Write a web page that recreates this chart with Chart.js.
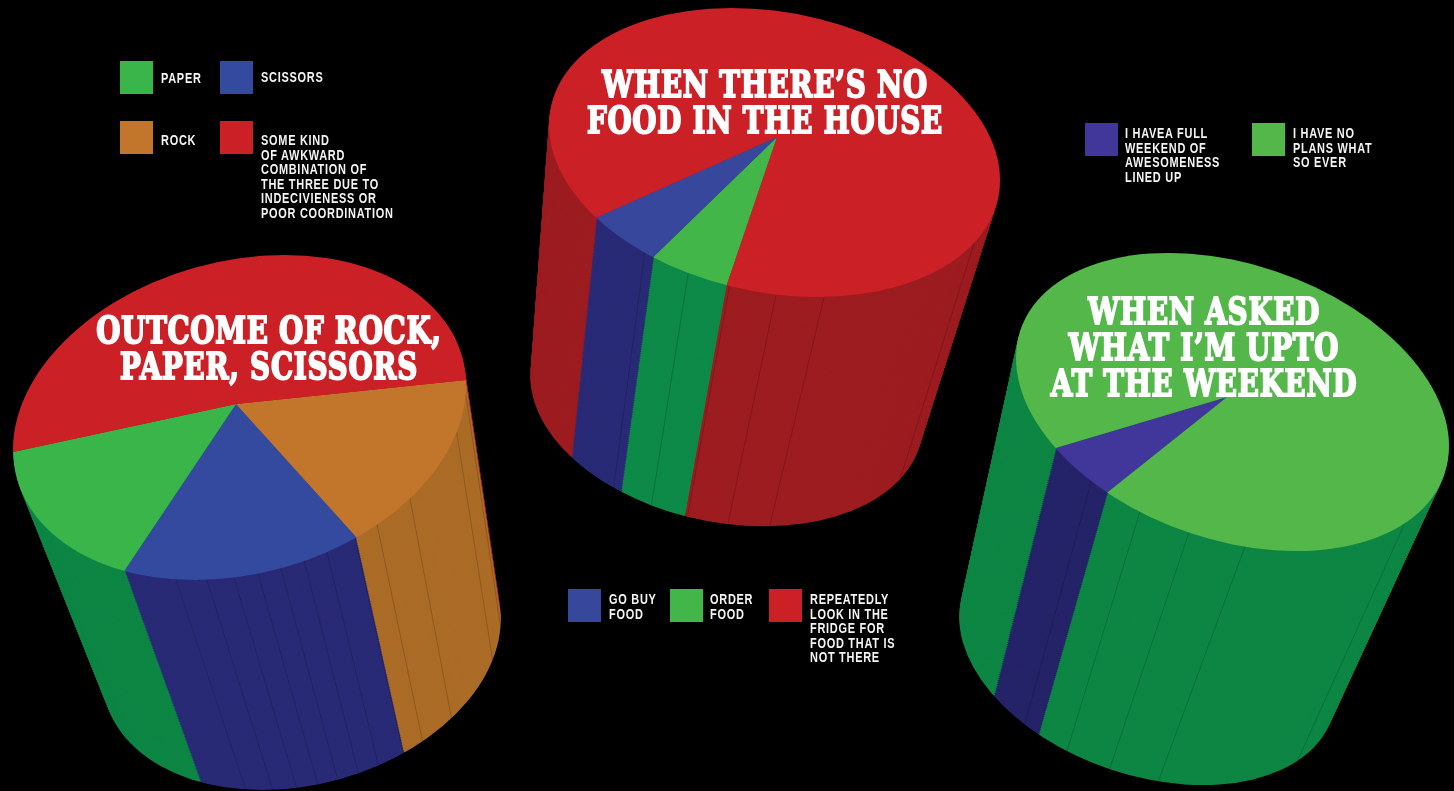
<!DOCTYPE html>
<html>
<head>
<meta charset="utf-8">
<script src="https://cdn.jsdelivr.net/npm/chart.js@4"></script>
<style>
html, body { margin: 0; background: #000; width: 1454px; height: 791px; overflow: hidden; }
canvas { position: absolute; left: 0; top: 0; }
.swatch { position: absolute; width: 33px; height: 33px; }
.label { position: absolute; color: #f4f4f4; font: bold 15px/14.5px "Liberation Sans", sans-serif; letter-spacing: 1px; white-space: pre;
  transform: scaleX(0.73); transform-origin: left top; }
.title { position: absolute; width: 600px; margin-left: -300px; text-align: center; color: #fff;
  font: bold 37px/36px "DejaVu Serif", serif; letter-spacing: 1px; -webkit-text-stroke: 2px #fff; white-space: pre; transform: scaleX(0.75); }
</style>
</head>
<body>
<canvas id="rps" width="1454" height="791"></canvas>
<canvas id="food" width="1454" height="791"></canvas>
<canvas id="weekend" width="1454" height="791"></canvas>
<script>
// slices run clockwise, so the order here is the order round the pie
const rpsLabels = ['Rock', 'Scissors', 'Paper', 'Some kind of awkward combination of the three due to indecivieness or poor coordination'];
const rpsValues = [16, 15.8, 15.7, 52.5];
const rpsColors = ['#c2762c', '#334a9e', '#3ab54a', '#cc2027'];
const rpsWalls = ['#ab6c27', '#292a76', '#0d8644', '#9c1c20'];
const rpsFacets = [106.3, 98.3, 91.4, 85.3, 79.5, 73.4, 67.3, 59.3, 52.6, 41.2, 16.5, 3];

const foodLabels = ['Order food', 'Go buy food', 'Repeatedly look in the fridge for food that is not there'];
const foodValues = [5.1, 5, 89.9];
const foodColors = ['#43b649', '#36479c', '#cc2027'];
const foodWalls = ['#0d8a47', '#292a76', '#9c1c20'];
const foodFacets = [125.1, 112.5, 101.5, 89.6, 77.3, 27.7];

const weekendLabels = ['I havea full weekend of awesomeness lined up', 'I have no plans what so ever'];
const weekendValues = [5.4, 94.6];
const weekendColors = ['#41379a', '#53b74a'];
const weekendWalls = ['#252368', '#0d8644'];
const weekendFacets = [130.7, 115.3, 101.6, 86.7, 37.2];

const STEPS = 130;

function drawPie3d(id, labels, values, colors, walls, facets, view) {
    const rotation = view.startAngle + 90;

    const solidPie = {
        id: 'solidPie',
        beforeDatasetsDraw(chart) {
            const ctx = chart.ctx;
            const arcs = chart.getDatasetMeta(0).data;

            function layer(t, fills) {
                const k = 1 - t * (1 - view.shrink);
                ctx.save();
                ctx.translate(view.cx + view.dropX * t, view.cy + view.dropY * t);
                ctx.scale(k, k);
                ctx.transform(view.w, view.skew, 0, view.h, 0, 0);
                ctx.beginPath();
                ctx.arc(0, 0, 1, 0, Math.PI * 2);
                ctx.clip();
                // the apex of the slices is not the middle of the ellipse
                const u = (view.apexX - view.cx) / view.w;
                const v = (view.apexY - view.cy - view.skew * u) / view.h;
                ctx.translate(u, v);
                const s = 1.3 / arcs[0].outerRadius;
                ctx.scale(s, s);
                ctx.translate(-arcs[0].x, -arcs[0].y);
                arcs.forEach((arc, i) => {
                    const keep = arc.options;
                    arc.options = Object.assign({}, keep, { backgroundColor: fills[i] });
                    arc.draw(ctx);
                    arc.options = keep;
                });
                ctx.restore();
            }

            function rim(deg, t) {
                const a = deg * Math.PI / 180;
                const k = 1 - t * (1 - view.shrink);
                return [
                    view.cx + view.dropX * t + k * view.w * Math.cos(a),
                    view.cy + view.dropY * t + k * (view.skew * Math.cos(a) + view.h * Math.sin(a))
                ];
            }

            for (let i = STEPS; i > 0; i--) {
                layer(i / STEPS, walls);
            }

            ctx.save();
            ctx.strokeStyle = 'rgba(0,0,0,0.3)';
            ctx.lineWidth = 0.6;
            facets.forEach(deg => {
                const from = rim(deg, 0);
                const to = rim(deg, 1);
                ctx.beginPath();
                ctx.moveTo(from[0], from[1]);
                ctx.lineTo(to[0], to[1]);
                ctx.stroke();
            });
            ctx.restore();

            layer(0, colors);
            return false;
        }
    };

    new Chart(document.getElementById(id), {
        type: 'pie',
        data: {
            labels: labels,
            datasets: [{
                data: values,
                backgroundColor: colors,
                borderWidth: 0
            }]
        },
        options: {
            responsive: false,
            animation: false,
            events: [],
            rotation: rotation,
            plugins: {
                legend: { display: false },
                tooltip: { enabled: false }
            }
        },
        plugins: [solidPie]
    });
}

drawPie3d('rps', rpsLabels, rpsValues, rpsColors, rpsWalls, rpsFacets, {
    cx: 239.5, cy: 417.5, w: 226.5, skew: -32, h: 159.3,
    apexX: 236, apexY: 404, startAngle: 3, dropX: 62, dropY: 229.5, shrink: 0.88
});
drawPie3d('food', foodLabels, foodValues, foodColors, foodWalls, foodFacets, {
    cx: 774.5, cy: 152.5, w: 225.5, skew: 27.5, h: 141.9,
    apexX: 777, apexY: 137, startAngle: 101.6, dropX: -48, dropY: 248, shrink: 0.87
});
drawPie3d('weekend', weekendLabels, weekendValues, weekendColors, weekendWalls, weekendFacets, {
    cx: 1232.5, cy: 402, w: 216.5, skew: 44, h: 142.4,
    apexX: 1227, apexY: 397, startAngle: 123.3, dropX: -85, dropY: 253.4, shrink: 0.87
});

function addText(cls, text, x, y) {
    const el = document.createElement('div');
    el.className = cls;
    el.textContent = text;
    el.style.left = x + 'px';
    el.style.top = y + 'px';
    document.body.appendChild(el);
}

function addKey(color, text, x, y, textX, textY) {
    const box = document.createElement('div');
    box.className = 'swatch';
    box.style.background = color;
    box.style.left = x + 'px';
    box.style.top = y + 'px';
    document.body.appendChild(box);
    addText('label', text, textX, textY);
}

addText('title', 'OUTCOME OF ROCK,\nPAPER, SCISSORS', 269, 312);
addText('title', 'WHEN THERE\u2019S NO\nFOOD IN THE HOUSE', 765, 66);
addText('title', 'WHEN ASKED\nWHAT I\u2019M UPTO\nAT THE WEEKEND', 1204, 293);

addKey(rpsColors[2], 'PAPER', 120, 61, 161, 71);
addKey(rpsColors[1], 'SCISSORS', 220, 61, 261, 70);
addKey(rpsColors[0], 'ROCK', 120, 121, 161, 133);
addKey(rpsColors[3], 'SOME KIND\nOF AWKWARD\nCOMBINATION OF\nTHE THREE DUE TO\nINDECIVIENESS OR\nPOOR COORDINATION', 220, 121, 261, 133);

addKey(foodColors[1], 'GO BUY\nFOOD', 568, 589, 609, 592);
addKey(foodColors[0], 'ORDER\nFOOD', 670, 589, 710, 592);
addKey(foodColors[2], 'REPEATEDLY\nLOOK IN THE\nFRIDGE FOR\nFOOD THAT IS\nNOT THERE', 769, 589, 810, 592);

addKey(weekendColors[0], 'I HAVEA FULL\nWEEKEND OF\nAWESOMENESS\nLINED UP', 1085, 123, 1125, 126);
addKey(weekendColors[1], 'I HAVE NO\nPLANS WHAT\nSO EVER', 1252, 123, 1293, 126);
</script>
</body>
</html>
